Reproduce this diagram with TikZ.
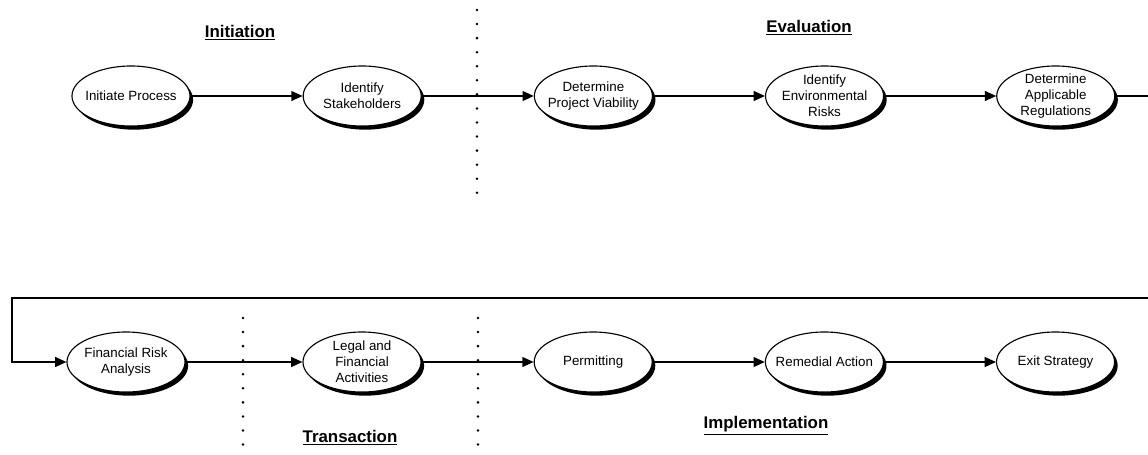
\documentclass[tikz,border=0pt]{standalone}
\usepackage{fontspec}
\setmainfont{Liberation Sans}
\usetikzlibrary{arrows.meta,shapes.geometric,shadows,positioning}

\begin{document}
\begin{tikzpicture}[x=0.025cm,y=-0.025cm,node distance=2.8cm]
\tikzstyle{every path}=[line width=1.1pt];
\tikzstyle{activity}=[ellipse,draw,fill=white,line width=0.8pt,
  minimum width=2.95cm,minimum height=1.5cm,inner xsep=-7pt,inner ysep=-2pt,
  align=center,font=\fontsize{9.5}{11.5}\selectfont,
  drop shadow={shadow xshift=2.2pt,shadow yshift=-2.6pt,fill=black,opacity=1}];
\tikzstyle{phase}=[font=\fontsize{12}{14}\selectfont\bfseries];
\tikzstyle{divider}=[line width=2pt,line cap=round,dash pattern=on 0pt off 10pt];
\tikzstyle{flow}=[-{Triangle[length=8pt,width=7pt]}];
\useasboundingbox (0,0) rectangle (1148,454);
% phase titles
\node[phase] (tinit) at (240,33) {\underline{Initiation}};
\node[phase] (teval) at (809,28) {\underline{Evaluation}};
\node[phase] (ttrans) at (350,438) {\underline{Transaction}};
\node[phase] (timpl) at (766,426) {\underline{Implementation}};
% phase boundaries
\draw[divider] (477,10) -- (477,200);
\draw[divider] (243,318) -- (243,460);
\draw[divider] (478,318) -- (478,460);
% top row
\node[activity] (init) at (131,96) {Initiate Process};
\node[activity] (stake) [right=of init] {Identify\\Stakeholders};
\node[activity] (viab) [right=of stake] {Determine\\Project Viability};
\node[activity] (envr) [right=of viab] {Identify\\Environmental\\Risks};
\node[activity] (regs) [right=of envr] {Determine\\Applicable\\Regulations};
% bottom row
\node[activity] (fin) at (126,362) {Financial Risk\\Analysis};
\node[activity] (legal) at (362,362) {Legal and\\Financial\\Activities};
\node[activity] (perm) [right=of legal] {Permitting};
\node[activity] (remed) [right=of perm] {Remedial Action};
\node[activity] (exit) [right=of remed] {Exit Strategy};
% return line
\coordinate (turnR) at (1152,298);
\coordinate (turnL) at (12,298);
\path[flow] (init) edge (stake);
\path[flow] (stake) edge (viab);
\path[flow] (viab) edge (envr);
\path[flow] (envr) edge (regs);
\draw[flow] (regs.east) -| (turnR) -- (turnL) |- (fin.west);
\path[flow] (fin) edge (legal);
\path[flow] (legal) edge (perm);
\path[flow] (perm) edge (remed);
\path[flow] (remed) edge (exit);
\end{tikzpicture}
\end{document}
